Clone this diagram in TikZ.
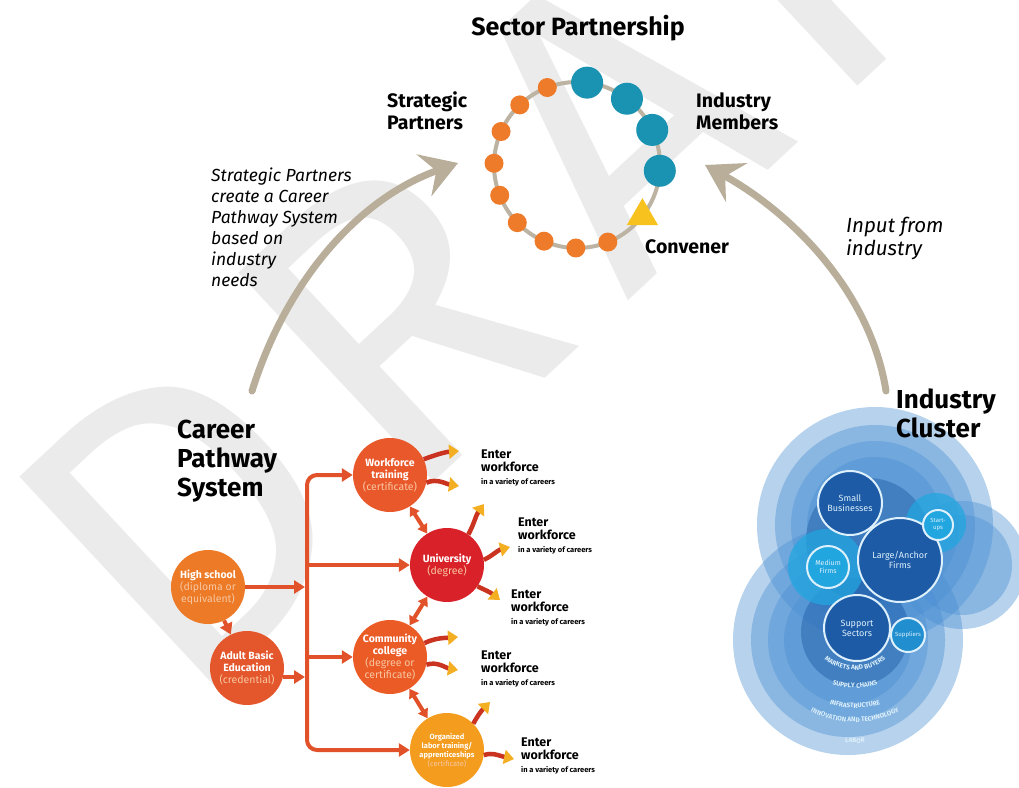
\documentclass[tikz,border=0pt]{standalone}
\usepackage{fontspec}
\setmainfont{Fira Sans}
\usepackage{tikz}
\usetikzlibrary{arrows.meta, decorations.text, shapes.geometric, calc}
\definecolor{wmgray}{HTML}{EBEBEB}
\definecolor{tanline}{HTML}{B8AE9A}
\definecolor{ringgray}{HTML}{BCB3A2}
\definecolor{beadorange}{HTML}{EE7B2A}
\definecolor{beadteal}{HTML}{1A93B2}
\definecolor{convyellow}{HTML}{F7C21E}
\definecolor{flowred}{HTML}{E2522A}
\definecolor{hsorange}{HTML}{EC7A26}
\definecolor{abeorange}{HTML}{E4562B}
\definecolor{wtorange}{HTML}{E9582A}
\definecolor{unired}{HTML}{D92129}
\definecolor{ccorange}{HTML}{EA5B26}
\definecolor{olamber}{HTML}{F39C1D}
\definecolor{paletext}{HTML}{F8C7A2}
\definecolor{outred}{HTML}{C9331F}
\definecolor{outyellow}{HTML}{F4AE22}
\definecolor{blobblue}{HTML}{4A8FD3}
\definecolor{coreblue}{HTML}{1D5BA6}
\definecolor{spotcyan}{HTML}{22A6E0}
\definecolor{ringwhite}{HTML}{DDF0FB}
\tikzstyle{bead}=[circle, fill=beadorange, minimum size=19pt, inner sep=0pt]
\tikzstyle{member}=[circle, fill=beadteal, minimum size=32pt, inner sep=0pt]
\tikzstyle{title}=[font=\fontsize{25}{27}\selectfont\bfseries]
\tikzstyle{grouplabel}=[font=\fontsize{19.5}{22}\selectfont\bfseries, align=left, inner sep=0pt]
\tikzstyle{bigtitle}=[font=\fontsize{26}{29}\selectfont\bfseries, align=left, inner sep=0pt]
\tikzstyle{note}=[font=\fontsize{17.5}{21}\selectfont\itshape, align=left, inner sep=0pt]
\tikzstyle{bigarrow}=[draw=tanline, line width=7pt, line cap=round, -{Stealth[length=36pt,width=44pt,inset=13pt]}]
\tikzstyle{stage}=[circle, minimum size=74pt, inner sep=0pt]
\tikzstyle{stagetext}=[text=white, align=center, font=\fontsize{10.5}{12}\selectfont\bfseries, inner sep=0pt]
\tikzstyle{flowline}=[draw=flowred, line width=4pt, -{Triangle[length=11pt,width=13pt]}]
\tikzstyle{twoway}=[draw=flowred, line width=4pt, {Triangle[length=9pt,width=11pt]}-{Triangle[length=9pt,width=11pt]}]
\tikzstyle{outflow}=[draw=outred, line width=4.5pt, -{Triangle[length=10pt,width=14pt,color=outyellow]}]
\tikzstyle{enter}=[anchor=west, align=left, inner sep=0pt, font=\fontsize{12.5}{13}\selectfont\bfseries]
\tikzstyle{firm}=[circle, draw=ringwhite, line width=2pt, fill=coreblue, text=ringwhite, align=center, inner sep=0pt]
\tikzstyle{blob}=[fill=blobblue, fill opacity=0.4]
\tikzstyle{wmletter}=[rotate=43, anchor=base west, inner sep=0pt, text=wmgray, font=\fontsize{415}{415}\selectfont]
\newcommand{\subline}[1]{{\mdseries\color{paletext}#1}}
\newcommand{\enterwf}{Enter\\workforce\\{\fontsize{7.5}{9}\selectfont in a variety of careers}}
\newcommand{\layerfont}{\color{ringwhite}\fontsize{6.5}{7}\selectfont\bfseries}
\tikzset{layer/.style={decorate, decoration={text along path, text align=center, text={|\layerfont|#1}}}}

\begin{document}
\begin{tikzpicture}[x=1pt, y=-1pt]
    \fill[white] (0,0) rectangle (1019,787);
    \useasboundingbox (0,0) rectangle (1019,787);
    % watermark, one letter at a time along a 43 degree line
    \coordinate (wmbase) at (184,715);
    \foreach \ch/\t in {D/0, R/300, A/605, F/880, T/1140}
        \node[wmletter] (wm\ch) at ($(wmbase)+(\t*0.731,-\t*0.682)$) {\ch};

    % sector partnership
    \node[title] (sector) at (578,28) {Sector Partnership};
    \coordinate (ringc) at (577,165);
    \draw[ringgray, line width=4pt] (ringc) circle[radius=83];
    \foreach \k in {0,...,8}
        \node[bead] (sp\k) at ([shift={({-111-22.6*\k}:83)}]ringc) {};
    \foreach \a [count=\i] in {-83,-53,-25,4}
        \node[member] (im\i) at ([shift={(\a:83)}]ringc) {};
    \node[regular polygon, regular polygon sides=3, fill=convyellow, minimum size=36pt, inner sep=0pt] (conv) at ([shift={(38:83)}]ringc) {};
    \node[grouplabel, anchor=west] (strat) at (387,111) {Strategic\\Partners};
    \node[grouplabel, anchor=west] (indmem) at (696,111) {Industry\\Members};
    \node[grouplabel, anchor=west] (convlbl) at (645,247) {Convener};

    \node[note, anchor=north west] (leftnote) at (211,168) {Strategic Partners\\create a Career\\Pathway System\\based on\\industry\\needs};
    \node[note, font=\fontsize{20.5}{23}\selectfont\itshape, anchor=west] (rightnote) at (846,238) {Input from\\industry};

    % the two big arrows
    \coordinate (leftfoot) at (252,391);
    \coordinate (lefttip) at (458,163);
    \draw[bigarrow] (leftfoot) .. controls (285,285) and (355,200) .. (lefttip);
    \coordinate (rightfoot) at (886,391);
    \coordinate (righttip) at (705,165);
    \draw[bigarrow] (rightfoot) .. controls (870,290) and (790,212) .. (righttip);

    % career pathway system
    \node[bigtitle, anchor=west] (cps) at (177,461) {Career\\Pathway\\System};
    \node[stage, fill=hsorange] (hs) at (208,587) {};
    \node[stagetext] (hst) at (hs) {High school\\\subline{(diploma or}\\\subline{equivalent)}};
    \node[stage, fill=abeorange] (abe) at (247,668) {};
    \node[stagetext] (abet) at (abe) {Adult Basic\\Education\\\subline{(credential)}};
    \node[stage, fill=wtorange] (wt) at (390,475) {};
    \node[stagetext] (wtt) at (wt) {Workforce\\training\\\subline{(certificate)}};
    \node[stage, fill=unired] (uni) at (447,565) {};
    \node[stagetext] (unit) at (uni) {University\\\subline{(degree)}};
    \node[stage, fill=ccorange] (cc) at (390,657) {};
    \node[stagetext] (cct) at (cc) {Community\\college\\\subline{(degree or}\\\subline{certificate)}};
    \node[stage, fill=olamber] (ol) at (447,750) {};
    \node[stagetext, font=\fontsize{7.5}{9}\selectfont\bfseries] (olt) at (ol) {Organized\\labor training/\\apprenticeships\\\subline{(certificate)}};

    \coordinate (bus) at (307,600);
    \draw[flowline, rounded corners=10pt] (bus) |- (wt);
    \draw[flowline] (bus |- uni) -- (uni);
    \draw[flowline] (bus |- cc) -- (cc);
    \draw[flowline, rounded corners=10pt] (bus) |- (ol);
    \draw[flowline, shorten >=2pt] (hs) -- (hs -| bus);
    \draw[flowline, shorten >=2pt] (abe.-14) -- (abe.-14 -| bus);
    \draw[flowline] (hs) -- (abe);
    \draw[twoway] (wt) -- (uni);
    \draw[twoway] (uni) -- (cc);
    \draw[twoway] (cc) -- (ol);

    \draw[outflow] (wt.25) .. controls (435,455) and (445,452) .. (459,451);
    \draw[outflow] (wt.-12) .. controls (437,478) and (446,484) .. (459,486);
    \draw[outflow] (uni.55) .. controls (474,524) and (476,515) .. (484,504);
    \draw[outflow] (uni.8) .. controls (492,556) and (498,550) .. (510,547);
    \draw[outflow] (uni.-35) .. controls (485,590) and (490,592) .. (500,600);
    \draw[outflow] (cc.22) .. controls (435,638) and (444,638) .. (458,637);
    \draw[outflow] (cc.-12) .. controls (437,661) and (446,668) .. (458,670);
    \draw[outflow] (ol.45) .. controls (478,715) and (482,710) .. (490,702);
    \draw[outflow] (ol.-8) .. controls (492,752) and (500,756) .. (514,759);

    \node[enter] (wf1) at (481,468) {\enterwf};
    \node[enter] (wf2) at (518,536) {\enterwf};
    \node[enter] (wf3) at (511,608) {\enterwf};
    \node[enter] (wf4) at (481,669) {\enterwf};
    \node[enter] (wf5) at (521,756) {\enterwf};

    % industry cluster
    \foreach \r in {118,100,84,68}
        \fill[blob] (875,525) circle[radius=\r];
    \foreach \r in {115,97,80,64}
        \fill[blob] (848,640) circle[radius=\r];
    \foreach \r in {64,50}
        \fill[blob] (962,565) circle[radius=\r];
    \fill[coreblue, fill opacity=0.45] (868,540) circle[radius=62];
    \fill[coreblue, fill opacity=0.45] (855,632) circle[radius=54];
    \fill[spotcyan, fill opacity=0.75] (826,567) circle[radius=38];
    \fill[spotcyan, fill opacity=0.75] (936,523) circle[radius=30];
    \node[firm, minimum size=64pt, font=\fontsize{9}{10}\selectfont] (small) at (850,503) {Small\\Businesses};
    \node[firm, minimum size=84pt, font=\fontsize{9}{10}\selectfont] (large) at (900,560) {Large/Anchor\\Firms};
    \node[firm, minimum size=30pt, fill=spotcyan, font=\fontsize{6}{7}\selectfont] (startups) at (938,525) {Start-\\ups};
    \node[firm, minimum size=42pt, fill=spotcyan, font=\fontsize{7}{8}\selectfont] (medium) at (828,567) {Medium\\Firms};
    \node[firm, minimum size=66pt, font=\fontsize{9}{10}\selectfont] (support) at (857,628) {Support\\Sectors};
    \node[firm, minimum size=34pt, fill=spotcyan!70!coreblue, font=\fontsize{6}{7}\selectfont] (suppliers) at (908,635) {Suppliers};

    \coordinate (layerc) at (855,622);
    \path[layer={MARKETS AND BUYERS}] ([shift={(145:48)}]layerc) arc[start angle=145, end angle=35, radius=48];
    \path[layer={SUPPLY CHAINS}] ([shift={(140:66)}]layerc) arc[start angle=140, end angle=40, radius=66];
    \path[layer={INFRASTRUCTURE}] ([shift={(135:86)}]layerc) arc[start angle=135, end angle=45, radius=86];
    \path[layer={INNOVATION AND TECHNOLOGY}] ([shift={(145:100)}]layerc) arc[start angle=145, end angle=35, radius=100];
    \path[layer={LABOR}] ([shift={(120:121)}]layerc) arc[start angle=120, end angle=60, radius=121];
    \node[bigtitle, anchor=west] (ic) at (896,413) {Industry\\Cluster};
\end{tikzpicture}
\end{document}
